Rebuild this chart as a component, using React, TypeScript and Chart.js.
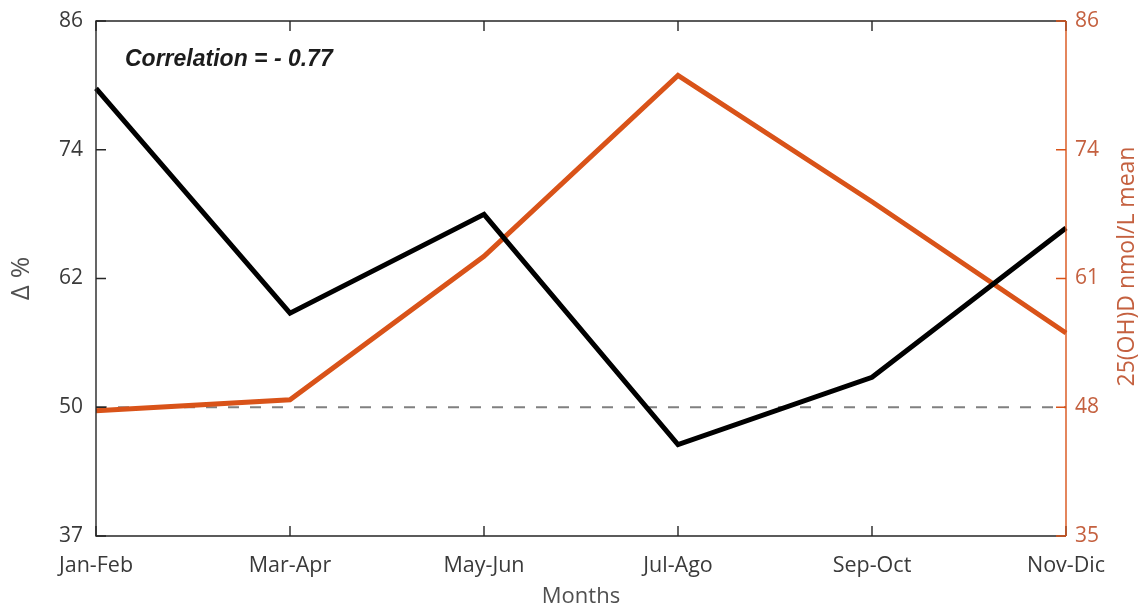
import React, { useEffect, useRef } from "react";
import { Chart, registerables } from "chart.js";

Chart.register(...registerables);

// Bimonthly periods
const PERIODS = ["Jan-Feb", "Mar-Apr", "May-Jun", "Jul-Ago", "Sep-Oct", "Nov-Dic"];
// Left axis: Δ %
const DELTA_PCT = [79.6, 58.2, 67.6, 45.7, 52.1, 66.3];
// Right axis: 25(OH)D nmol/L mean
const VITD_MEAN = [47.4, 48.5, 62.7, 80.6, 68.1, 55.1];

const LEFT_MIN = 37;
const LEFT_MAX = 86;
const RIGHT_MIN = 35;
const RIGHT_MAX = 86;
const LEFT_TICK_LABELS = ["37", "50", "62", "74", "86"];
const RIGHT_TICK_LABELS = ["35", "48", "61", "74", "86"];
const REFERENCE_TICK_INDEX = 1; // dashed reference line sits on this tick
const CORRELATION = -0.77;

const FONT = '"Open Sans", "Noto Sans", sans-serif';
const AXIS_DARK = "#262626";
const ORANGE = "#D95319";
const ORANGE_TEXT = "#C4603F";
const LABEL_GRAY = "#3a3a3a";
const TITLE_GRAY = "#505050";

const decorations = {
  id: "decorations",
  beforeDatasetsDraw(chart: any) {
    const { ctx, chartArea: a, scales } = chart;
    const y = scales.yL.getPixelForTick(REFERENCE_TICK_INDEX);
    ctx.save();
    ctx.strokeStyle = "#808080";
    ctx.lineWidth = 2;
    ctx.setLineDash([11, 11]);
    ctx.beginPath();
    ctx.moveTo(a.left, y);
    ctx.lineTo(a.right, y);
    ctx.stroke();
    ctx.restore();
  },
  afterDatasetsDraw(chart: any) {
    const { ctx, chartArea: a, scales } = chart;
    const tick = 10;
    ctx.save();
    ctx.lineWidth = 1.4;

    // box: top, bottom, left in dark grey
    ctx.strokeStyle = AXIS_DARK;
    ctx.beginPath();
    ctx.moveTo(a.right, a.top);
    ctx.lineTo(a.left, a.top);
    ctx.lineTo(a.left, a.bottom);
    ctx.lineTo(a.right, a.bottom);
    ctx.stroke();

    // inward ticks on top / bottom for each period
    ctx.beginPath();
    const xs = scales.x;
    for (let i = 0; i < PERIODS.length; i++) {
      const px = xs.getPixelForTick(i);
      ctx.moveTo(px, a.top);
      ctx.lineTo(px, a.top + tick);
      ctx.moveTo(px, a.bottom);
      ctx.lineTo(px, a.bottom - tick);
    }
    // inward ticks on the left axis
    const yl = scales.yL;
    for (let i = 0; i < yl.ticks.length; i++) {
      const py = yl.getPixelForTick(i);
      ctx.moveTo(a.left, py);
      ctx.lineTo(a.left + tick, py);
    }
    ctx.stroke();

    // right axis in orange with inward ticks
    ctx.strokeStyle = ORANGE;
    ctx.beginPath();
    ctx.moveTo(a.right, a.top);
    ctx.lineTo(a.right, a.bottom);
    const yr = scales.yR;
    for (let i = 0; i < yr.ticks.length; i++) {
      const py = yr.getPixelForTick(i);
      ctx.moveTo(a.right, py);
      ctx.lineTo(a.right - tick, py);
    }
    ctx.stroke();
    ctx.restore();
  },
  afterDraw(chart: any) {
    const { ctx, chartArea: a } = chart;
    ctx.save();
    // correlation annotation
    ctx.fillStyle = "#1c1c1c";
    ctx.font = 'italic bold 23px "Liberation Sans", Arial, sans-serif';
    ctx.textAlign = "left";
    ctx.textBaseline = "alphabetic";
    ctx.fillText(
      `Correlation = - ${Math.abs(CORRELATION).toFixed(2)}`,
      a.left + 29,
      a.top + 45
    );

    // right axis title, reading bottom to top
    ctx.translate(a.right + 61, (a.top + a.bottom) / 2 - 12);
    ctx.rotate(-Math.PI / 2);
    ctx.fillStyle = ORANGE_TEXT;
    ctx.font = `23px ${FONT}`;
    ctx.textAlign = "center";
    ctx.textBaseline = "middle";
    ctx.fillText("25(OH)D nmol/L mean", 0, 0);
    ctx.restore();
  },
};

export default function App() {
  const canvasRef = useRef<HTMLCanvasElement | null>(null);

  useEffect(() => {
    const canvas = canvasRef.current;
    if (!canvas) return;
    const chart = new Chart(canvas, {
      type: "line",
      data: {
        labels: PERIODS,
        datasets: [
          {
            label: "Δ %",
            data: DELTA_PCT,
            yAxisID: "yL",
            borderColor: "#000000",
            borderWidth: 5,
            pointRadius: 0,
            tension: 0,
            borderJoinStyle: "miter",
            borderCapStyle: "butt",
            fill: false,
          },
          {
            label: "25(OH)D nmol/L mean",
            data: VITD_MEAN,
            yAxisID: "yR",
            borderColor: ORANGE,
            borderWidth: 5,
            pointRadius: 0,
            tension: 0,
            borderJoinStyle: "miter",
            borderCapStyle: "butt",
            fill: false,
          },
        ],
      },
      options: {
        responsive: false,
        animation: false,
        devicePixelRatio: 1,
        layout: { padding: { top: 21, left: 0, right: 0, bottom: 0 } },
        plugins: {
          legend: { display: false },
          tooltip: { enabled: false },
        },
        scales: {
          x: {
            type: "category",
            offset: false,
            grid: { display: false, drawTicks: false },
            border: { display: false },
            ticks: {
              autoSkip: false,
              maxRotation: 0,
              padding: 17,
              color: LABEL_GRAY,
              font: { family: FONT, size: 21.5 },
            },
            title: {
              display: true,
              text: "Months",
              color: TITLE_GRAY,
              font: { family: FONT, size: 22, lineHeight: 1 },
              padding: { top: 0, bottom: 0 },
            },
            afterFit: (s: any) => {
              s.height = 72;
              s.paddingLeft = 0;
              s.paddingRight = 0;
            },
          },
          yL: {
            type: "linear",
            position: "left",
            min: LEFT_MIN,
            max: LEFT_MAX,
            grid: { display: false, drawTicks: false },
            border: { display: false },
            ticks: {
              count: LEFT_TICK_LABELS.length,
              padding: 13,
              color: LABEL_GRAY,
              font: { family: FONT, size: 21 },
              callback: (_v: any, i: number) => LEFT_TICK_LABELS[i],
            },
            title: {
              display: true,
              text: "Δ %",
              color: TITLE_GRAY,
              font: { family: FONT, size: 26, lineHeight: 1 },
              padding: { top: 9, bottom: 0 },
            },
            afterFit: (s: any) => {
              s.width = 96;
              s.paddingTop = 0;
              s.paddingBottom = 0;
            },
          },
          yR: {
            type: "linear",
            position: "right",
            min: RIGHT_MIN,
            max: RIGHT_MAX,
            grid: { display: false, drawTicks: false, drawOnChartArea: false },
            border: { display: false },
            ticks: {
              count: RIGHT_TICK_LABELS.length,
              padding: 9,
              color: ORANGE_TEXT,
              font: { family: FONT, size: 21 },
              callback: (_v: any, i: number) => RIGHT_TICK_LABELS[i],
            },
            afterFit: (s: any) => {
              s.width = 75;
              s.paddingTop = 0;
              s.paddingBottom = 0;
            },
          },
        },
      },
      plugins: [decorations],
    });
    return () => chart.destroy();
  }, []);

  return (
    <div
      style={{
        position: "fixed",
        left: 0,
        top: 0,
        width: 1141,
        height: 608,
        background: "#ffffff",
      }}
    >
      <canvas
        ref={canvasRef}
        width={1141}
        height={608}
        style={{ display: "block", width: 1141, height: 608 }}
      />
    </div>
  );
}
